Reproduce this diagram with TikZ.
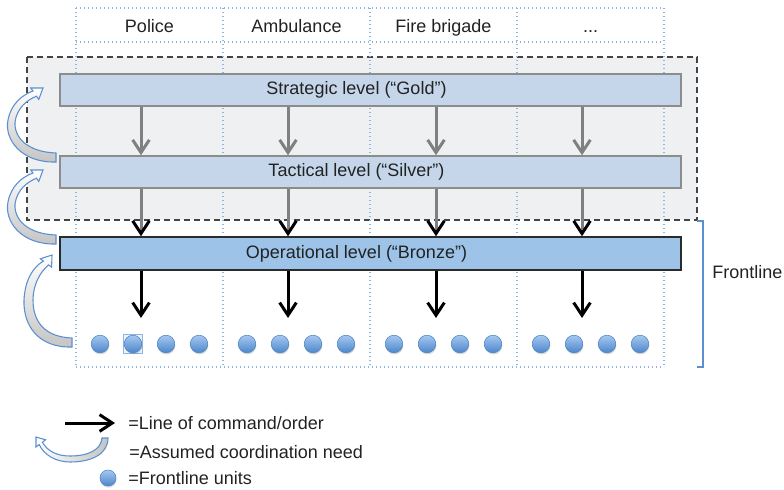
\documentclass[tikz,border=0pt]{standalone}
\usepackage{fontspec}
\setmainfont{Liberation Sans}
\usetikzlibrary{arrows.meta,shadows}
\definecolor{gridblue}{HTML}{8DB4E2}
\definecolor{framegray}{HTML}{444444}
\definecolor{framefill}{HTML}{EFF0F1}
\definecolor{lvlfill}{HTML}{C5D6EB}
\definecolor{lvldraw}{HTML}{8C8C8C}
\definecolor{opfill}{HTML}{9DC3E8}
\definecolor{opdraw}{HTML}{2B2B2B}
\definecolor{unitdraw}{HTML}{4A84C8}
\definecolor{unittop}{HTML}{A6C8F0}
\definecolor{unitbot}{HTML}{4C86CA}
\definecolor{arrowgray}{HTML}{808080}
\definecolor{coordblue}{HTML}{5B8FCF}
\definecolor{coordgray}{HTML}{C4C4C4}
\definecolor{txt}{HTML}{222222}
\begin{document}
\begin{tikzpicture}[x=0.75pt,y=-0.75pt,
  font=\fontsize{13.5}{16}\selectfont,
  every node/.style={text=txt},
  levelbox/.style={draw=lvldraw, line width=1.1pt, fill=lvlfill, minimum width=465.75pt, minimum height=24pt, inner sep=0pt},
  opbox/.style={levelbox, draw=opdraw, fill=opfill, minimum height=24.75pt},
  unit/.style={circle, minimum size=13.2pt, inner sep=0pt, draw=unitdraw, line width=0.4pt, top color=unittop, bottom color=unitbot, drop shadow={opacity=0.3, shadow xshift=0.4pt, shadow yshift=-1.2pt}},
  gridline/.style={draw=gridblue, line width=1.1pt, dash pattern=on 0.9pt off 2.1pt},
  grayarrow/.style={draw=arrowgray, line width=2.25pt, -{Straight Barb[length=9.5pt,width=12.5pt]}},
  mixarrow/.style={draw=arrowgray, line width=2.25pt, -{Straight Barb[length=9.5pt,width=12.5pt,color=black]}},
  blackarrow/.style={draw=black, line width=2.25pt, -{Straight Barb[length=9.5pt,width=12.5pt]}},
  coordarrow/.style={draw=coordblue, line width=0.8pt, top color=white, bottom color=coordgray},
  legendcoord/.style={draw=coordblue, line width=0.8pt, left color=white, right color=coordgray},
  bracket/.style={draw=coordblue, line width=2.2pt},
  header/.style={anchor=base, inner sep=0pt},
  legendtext/.style={anchor=west, inner sep=0pt}
]
\useasboundingbox (0,0) rectangle (784,489);

% dashed frame for strategic + tactical levels
\draw[dash pattern=on 4.5pt off 3pt, line width=1.5pt, draw=framegray, fill=framefill] (27,57) rectangle (697,220);

% dotted grid
\foreach \gx in {76,223,370,517,664} {\draw[gridline] (\gx,8) -- (\gx,367);}
\draw[gridline] (76,8) -- (664,8);
\draw[gridline] (76,42) -- (664,42);
\draw[gridline] (76,367) -- (664,367);

% headers
\node[header] (hpol) at (149.5,32) {Police};
\node[header] (hamb) at (296.5,32) {Ambulance};
\node[header] (hfire) at (443.5,32) {Fire brigade};
\node[header] (hdots) at (590.5,32) {...};

% level boxes
\node[levelbox, label={[xshift=-10.5pt]center:Strategic level (“Gold”)}] (gold) at (370.5,90) {};
\node[levelbox, label={[xshift=-10.5pt]center:Tactical level (“Silver”)}] (silver) at (370.5,172) {};
\node[opbox, label={[xshift=-10.5pt]center:Operational level (“Bronze”)}] (bronze) at (370.5,253.5) {};

% arrow columns
\coordinate (a1) at (141,0);
\coordinate (a2) at (288,0);
\coordinate (a3) at (436,0);
\coordinate (a4) at (582,0);
\foreach \c in {a1,a2,a3,a4} {
  \draw[grayarrow] (gold.south -| \c) -- (silver.north -| \c);
  \draw[mixarrow] (silver.south -| \c) -- (bronze.north -| \c);
}
\coordinate (u1) at (141,318);
\coordinate (u2) at (288,318);
\coordinate (u3) at (436,318);
\coordinate (u4) at (582,318);
\foreach \c/\u in {a1/u1,a2/u2,a3/u3,a4/u4} {
  \draw[blackarrow] (bronze.south -| \c) -- (\u);
}

% frontline units
\draw[draw=gridblue, line width=0.7pt, fill=gridblue!15] (123.5,334.5) rectangle (142.5,353.5);
\foreach \cx [count=\i] in {149.5,296.5,443.5,590.5} {
  \foreach \dx [count=\j] in {-49.5,-16.5,16.5,49.5} {
    \node[unit] (d\i\j) at (\cx+\dx,344) {};
  }
}

% frontline bracket
\draw[bracket] (697,221) -- (703,221) -- (703,367) -- (697,367);
\node[anchor=west, inner sep=0pt] (front) at (712,272) {Frontline};

% coordination arrows
\begin{scope}[shift={(43,88)}]
\path[coordarrow] (13,74) .. controls (-21,75) and (-39,52) .. (-35,32) .. controls (-32,16) and (-21,7) .. (-10,3) -- (-12.2,0) -- (0,0) -- (-4.2,11.4) -- (-6.5,8.2) .. controls (-16,12) and (-26,20) .. (-28,34) .. controls (-29,50) and (-15,64) .. (13,65) -- cycle;
\end{scope}
\begin{scope}[shift={(43,170)}]
\path[coordarrow] (13,74) .. controls (-21,75) and (-39,52) .. (-35,32) .. controls (-32,16) and (-21,7) .. (-10,3) -- (-12.2,0) -- (0,0) -- (-4.2,11.4) -- (-6.5,8.2) .. controls (-16,12) and (-26,20) .. (-28,34) .. controls (-29,50) and (-15,64) .. (13,65) -- cycle;
\end{scope}
\path[coordarrow] (72,347) .. controls (38,348) and (23,325) .. (24,300) .. controls (25,280) and (33,267) .. (43.4,261.1) -- (40.4,258.8) -- (52,255) -- (51.6,267.2) -- (48.6,264.9) .. controls (40,272) and (33,285) .. (33,300) .. controls (33,322) and (45,337) .. (72,338) -- cycle;

% legend
\coordinate (lg1) at (65,423);
\coordinate (lg2) at (115,423);
\draw[blackarrow] (lg1) -- (lg2);
\node[legendtext] (l1) at (128,423) {=Line of command/order};
\path[legendcoord] (108,438) .. controls (108,455) and (90,462) .. (70,462) .. controls (56,462) and (44,455) .. (39.2,444.6) -- (36,447) -- (36,437) -- (45.6,439.8) -- (42.4,442.2) .. controls (48,452) and (58,456) .. (70,456) .. controls (88,456) and (101,450) .. (102,438) -- cycle;
\node[legendtext] (l2) at (129,452) {=Assumed coordination need};
\node[unit, minimum size=12pt] (ldot) at (108,478) {};
\node[legendtext] (l3) at (128,478) {=Frontline units};
\end{tikzpicture}
\end{document}
